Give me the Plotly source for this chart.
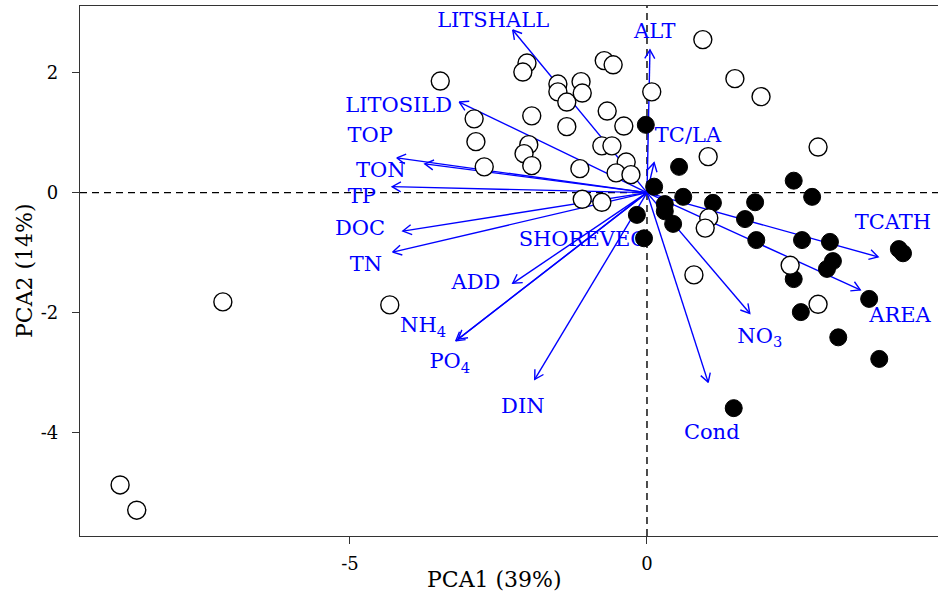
import math
import plotly.graph_objects as go

# ---- site scores (PCA1, PCA2) ----
open_x = [-8.87, -8.59, -7.14, -4.33, -3.48, -2.91, -2.88, -2.74, -2.02, -2.09,
          -1.50, -1.50, -1.35, -1.11, -1.09, -0.72, -0.57, -1.94, -1.35, -0.67,
          -0.39, -1.99, -2.07, -1.94, -1.13, -0.76, -0.59, -0.35, -0.52, -0.27,
          -1.09, -0.76, 0.08, 0.94, 1.48, 1.92, 2.88, 1.03, 1.04, 0.98,
          0.79, 2.41, 2.88]
open_y = [-4.87, -5.29, -1.82, -1.87, 1.86, 1.23, 0.85, 0.43, 2.16, 2.01,
          1.81, 1.68, 1.51, 1.85, 1.66, 2.20, 2.13, 1.28, 1.10, 1.36,
          1.11, 0.80, 0.65, 0.45, 0.40, 0.78, 0.78, 0.51, 0.33, 0.30,
          -0.11, -0.16, 1.68, 2.55, 1.90, 1.60, 0.76, 0.60, -0.42, -0.59,
          -1.37, -1.21, -1.86]

filled_x = [-0.02, 0.12, 0.54, 0.61, 0.30, 0.30, -0.17, -0.05, 0.44, 1.11,
            1.82, 1.65, 1.84, 2.47, 2.78, 2.61, 3.08, 3.13, 3.03, 2.47,
            2.59, 3.22, 3.74, 3.91, 1.46, 4.24, 4.31]
filled_y = [1.13, 0.10, 0.43, -0.07, -0.19, -0.31, -0.37, -0.76, -0.52, -0.17,
            -0.16, -0.44, -0.79, 0.20, -0.07, -0.79, -0.82, -1.14, -1.27, -1.44,
            -1.99, -2.41, -1.77, -2.77, -3.59, -0.94, -1.01]

# ---- variable loadings (arrow tips) ----
arrow_names = ["LITSHALL", "ALT", "LITOSILD", "TOP", "TON", "TP", "DOC", "TN",
               "ADD", "NH4", "PO4", "DIN", "TC/LA", "TCATH", "AREA", "NO3", "Cond"]
arrow_x = [-2.26, 0.05, -3.16, -4.21, -3.74, -4.29, -4.11, -4.28,
           -2.26, -3.18, -3.22, -1.89, 0.12, 3.89, 3.59, 1.73, 1.03]
arrow_y = [2.71, 2.38, 1.51, 0.58, 0.48, 0.10, -0.64, -0.99,
           -1.51, -2.44, -2.47, -3.11, 0.50, -1.07, -1.62, -2.01, -3.16]

# ---- variable labels ----
label_text = ["LITSHALL", "ALT", "LITOSILD", "TOP", "TON", "TP", "DOC", "TN",
              "ADD", "NH<sub>4</sub>", "PO<sub>4</sub>", "DIN", "TC/LA", "TCATH",
              "AREA", "NO<sub>3</sub>", "Cond", "SHOREVEG"]
label_x = [-2.59, 0.13, -4.18, -4.66, -4.48, -4.80, -4.83, -4.73,
           -2.88, -3.77, -3.32, -2.09, 0.69, 4.14, 4.26, 1.90, 1.09, -1.08]
label_y = [2.85, 2.66, 1.43, 0.93, 0.35, -0.09, -0.62, -1.21,
           -1.51, -2.24, -2.84, -3.59, 0.93, -0.51, -2.07, -2.41, -4.01, -0.80]

x_ticks = [-5, 0]
x_ticktext = ["-5", "0"]
y_ticks = [-4, -2, 0, 2]
y_ticktext = ["-4", "-2", "0", "2"]

# ---- layout geometry ----
W, H = 938, 593
ML, MR, MT, MB = 80, 0, 6, 57
XR = [-9.545, 4.899]
YR = [-5.72, 3.11]
sx = (W - ML - MR) / (XR[1] - XR[0])
sy = (H - MT - MB) / (YR[1] - YR[0])

BLUE = "#0000FF"
SERIF = "DejaVu Serif"

# build arrows: shafts + open V heads (10 px wings at 30 deg)
ax_line, ay_line = [], []
head_len, head_ang = 10.0, math.radians(30)
for tx, ty in zip(arrow_x, arrow_y):
    ax_line += [0, tx, None]
    ay_line += [0, ty, None]
    px, py = tx * sx, ty * sy
    n = math.hypot(px, py)
    ux, uy = -px / n, -py / n
    wings = []
    for s in (1, -1):
        c, si = math.cos(s * head_ang), math.sin(s * head_ang)
        wx = ux * c - uy * si
        wy = ux * si + uy * c
        wings.append((tx + wx * head_len / sx, ty + wy * head_len / sy))
    ax_line += [wings[0][0], tx, wings[1][0], None]
    ay_line += [wings[0][1], ty, wings[1][1], None]

fig = go.Figure()
fig.add_trace(go.Scatter(x=ax_line, y=ay_line, mode="lines",
                         line=dict(color=BLUE, width=1.4), hoverinfo="skip",
                         showlegend=False))
fig.add_trace(go.Scatter(x=label_x, y=label_y, mode="text", text=label_text,
                         textposition="middle center",
                         textfont=dict(family=SERIF, size=21, color=BLUE),
                         showlegend=False))
fig.add_trace(go.Scatter(x=filled_x, y=filled_y, mode="markers",
                         marker=dict(symbol="circle", size=17, color="black",
                                     line=dict(color="black", width=1)),
                         showlegend=False))
fig.add_trace(go.Scatter(x=open_x, y=open_y, mode="markers",
                         marker=dict(symbol="circle", size=18, color="white",
                                     line=dict(color="black", width=1.4)),
                         showlegend=False))

fig.add_shape(type="line", xref="x", yref="paper", x0=0, x1=0, y0=0, y1=1,
              line=dict(color="black", width=1.4, dash="7px,5px"), layer="below")
fig.add_shape(type="line", xref="paper", yref="y", x0=0, x1=1, y0=0, y1=0,
              line=dict(color="black", width=1.4, dash="7px,5px"), layer="below")

fig.add_annotation(text="PCA1 (39%)", xref="paper", yref="paper",
                   x=(494 - ML) / (W - ML - MR), y=(H - MB - 579) / (H - MT - MB),
                   xanchor="center", yanchor="middle", showarrow=False,
                   font=dict(family=SERIF, size=22, color="black"))
fig.add_annotation(text="PCA2 (14%)", xref="paper", yref="paper",
                   x=(24 - ML) / (W - ML - MR), y=(H - MB - 271) / (H - MT - MB),
                   xanchor="center", yanchor="middle", showarrow=False,
                   textangle=-90,
                   font=dict(family=SERIF, size=22, color="black"))

fig.update_layout(
    width=W, height=H,
    margin=dict(l=ML, r=MR, t=MT, b=MB),
    paper_bgcolor="white", plot_bgcolor="white",
    showlegend=False,
    xaxis=dict(range=XR, tickvals=x_ticks, ticktext=x_ticktext,
               showgrid=False, zeroline=False, showline=True, mirror=True,
               linecolor="#333", linewidth=1.3, ticks="outside", ticklen=7,
               tickcolor="#333", ticklabelstandoff=4,
               tickfont=dict(family=SERIF, size=18, color="black")),
    yaxis=dict(range=YR, tickvals=y_ticks, ticktext=y_ticktext,
               showgrid=False, zeroline=False, showline=True, mirror=False,
               linecolor="#333", linewidth=1.3, ticks="outside", ticklen=7,
               tickcolor="#333", ticklabelstandoff=10,
               tickfont=dict(family=SERIF, size=18, color="black")),
)

fig.write_html("out.html",
               config={"displayModeBar": False},
               post_script="document.body.style.margin='0px';"
                           "document.body.style.overflow='hidden';")
